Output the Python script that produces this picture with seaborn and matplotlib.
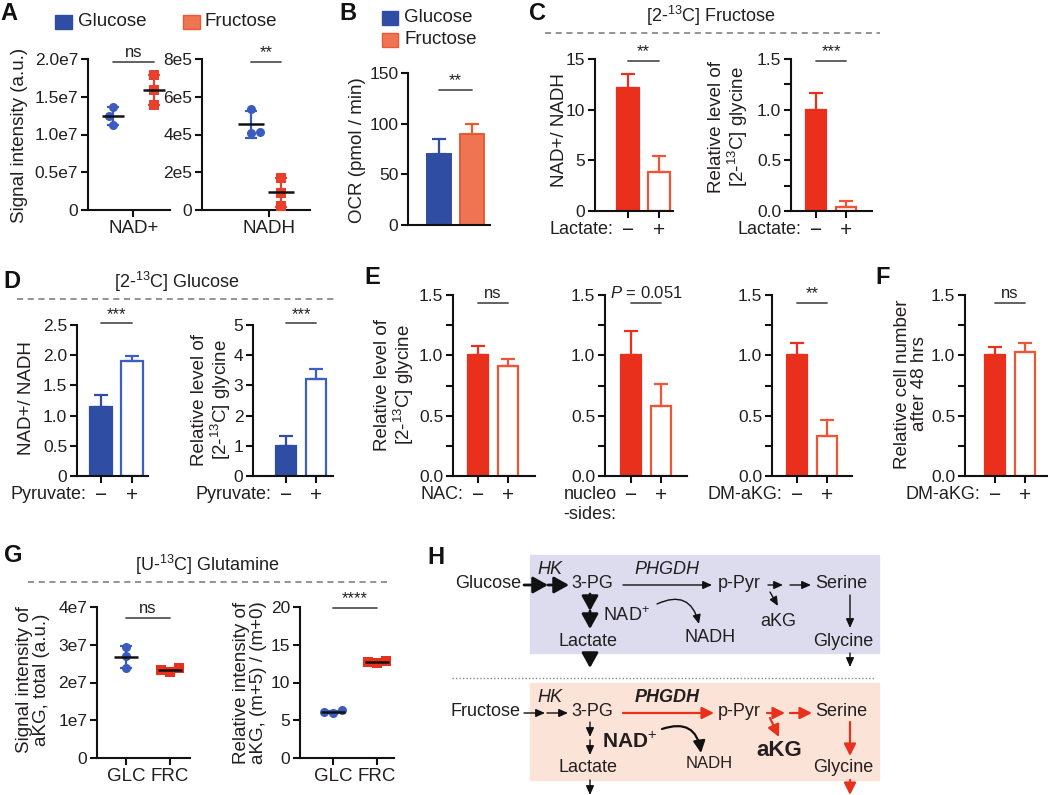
import numpy as np
import pandas as pd
import matplotlib
matplotlib.use("Agg")
import matplotlib.pyplot as plt
import matplotlib.transforms as mtransforms
from matplotlib.patches import Rectangle
import seaborn as sns

W, H = 1050, 795

# ---------------- data ----------------
groups = ["Glucose", "Fructose"]
# A: signal intensity, 3 replicates each
a_nad_glc = [1.36e7, 1.24e7, 1.13e7]
a_nad_frc = [1.79e7, 1.59e7, 1.39e7]
a_nadh_glc = [5.35e5, 4.10e5, 4.15e5]
a_nadh_frc = [1.70e5, 0.90e5, 0.20e5]
# B: OCR (mean, mean+error)
b_mean = [70, 90]
b_top = [85, 100]
# C: [2-13C] fructose, lactate -/+
c_ratio_mean = [12.1, 3.8]
c_ratio_top = [13.5, 5.4]
c_gly_mean = [1.0, 0.04]
c_gly_top = [1.16, 0.10]
# D: [2-13C] glucose, pyruvate -/+
d_ratio_mean = [1.15, 1.91]
d_ratio_top = [1.34, 1.98]
d_gly_mean = [1.0, 3.22]
d_gly_top = [1.33, 3.53]
# E: relative [2-13C] glycine
e_nac_mean = [1.0, 0.91]
e_nac_top = [1.08, 0.97]
e_nuc_mean = [1.0, 0.58]
e_nuc_top = [1.20, 0.76]
e_akg_mean = [1.0, 0.33]
e_akg_top = [1.10, 0.46]
# F: relative cell number
f_mean = [1.0, 1.03]
f_top = [1.07, 1.10]
# G: [U-13C] glutamine
g_labels = ["GLC", "FRC"]
g_tot_glc = [2.95e7, 2.70e7, 2.38e7]
g_tot_frc = [2.38e7, 2.33e7, 2.28e7]
g_rel_glc = [6.0, 6.3, 6.1]
g_rel_frc = [12.6, 12.9, 12.7]
pm_labels = ["\u2212", "+"]

# ---------------- style ----------------
sns.set_style("ticks")
plt.rcParams['font.family'] = ['Liberation Sans', 'DejaVu Sans']
plt.rcParams['mathtext.fontset'] = 'custom'
plt.rcParams['mathtext.rm'] = 'Liberation Sans'
plt.rcParams['mathtext.it'] = 'Liberation Sans:italic'
plt.rcParams['mathtext.bf'] = 'Liberation Sans:bold'
TXT = '#231f20'
plt.rcParams['text.color'] = TXT
BLUE = '#2f4ea3'
BLUE_PT = '#3a5cbf'
SALMON = '#ef7552'
RED = '#e8301c'
RED_OPEN = '#ee5436'
RED_PT = '#e8412b'
GRAY = '#555555'

fig = plt.figure(figsize=(W / 100, H / 100), dpi=100)
ov = fig.add_axes([0, 0, 1, 1], zorder=-5)
ov.set_xlim(0, W)
ov.set_ylim(H, 0)
ov.axis('off')


def make_axes(x0, x1, ytop, ybot):
    return fig.add_axes([x0 / W, 1 - ybot / H, (x1 - x0) / W, (ybot - ytop) / H])


def style_axes(ax, ymax, major, labels, minor=None):
    ax.set_ylim(0, ymax)
    ax.set_yticks(major)
    ax.set_yticklabels(labels)
    if minor is not None:
        ax.set_yticks(minor, minor=True)
    sns.despine(ax=ax)
    for s in ('left', 'bottom'):
        ax.spines[s].set_linewidth(1.5)
        ax.spines[s].set_color('#111111')
    ax.tick_params(axis='both', which='both', width=1.5, length=5, colors='#111111',
                   labelcolor=TXT, labelsize=12.5, pad=2)
    ax.set_xlabel('')
    ax.set_ylabel('')
    ax.set_facecolor('none')


def set_xlim_px(ax, x0, x1, c0, c1):
    u = c1 - c0
    ax.set_xlim((x0 - c0) / u, (x1 - c0) / u)


def sig(ax, frac, ymax, text, x0=0.0, x1=1.0, fs=12):
    y = frac * ymax
    ax.plot([x0, x1], [y, y], color=GRAY, lw=1.3, clip_on=False)
    ax.text((x0 + x1) / 2, y + 0.012 * ymax, text, ha='center', va='bottom',
            fontsize=fs, color=TXT, clip_on=False)


def bar_panel(px, ymax, major, labels, minor, means, tops, faces, edges,
              prefix, sigtxt, sigfrac):
    x0, x1, yt, yb, c0, c1 = px
    ax = make_axes(x0, x1, yt, yb)
    df = pd.DataFrame({'cond': pm_labels, 'val': means})
    sns.barplot(data=df, x='cond', y='val', hue='cond', order=pm_labels,
                palette=dict(zip(pm_labels, faces)), width=0.68, errorbar=None,
                legend=False, saturation=1, ax=ax)
    for p, e in zip(ax.patches, edges):
        p.set_edgecolor(e)
        p.set_linewidth(1.6)
    for i in range(2):
        ax.errorbar(i, means[i], yerr=[[0], [tops[i] - means[i]]], fmt='none',
                    ecolor=edges[i], elinewidth=1.6, capsize=5, capthick=1.6)
    style_axes(ax, ymax, major, labels, minor)
    set_xlim_px(ax, x0, x1, c0, c1)
    ax.set_xticks([0, 1])
    ax.set_xticklabels(pm_labels, fontsize=15)
    tr = mtransforms.blended_transform_factory(ax.transData, ax.transAxes)
    ax.annotate(prefix, xy=(-0.48, 0), xycoords=tr, xytext=(0, -7.5),
                textcoords='offset points', ha='right', va='top', fontsize=13,
                multialignment='center')
    sig(ax, sigfrac, ymax, sigtxt)
    return ax


def point_panel(px, ymax, major, labels, glc, frc, xticks, xlabels, sigtxt, sigfrac,
                hw, frc_col):
    x0, x1, yt, yb, c0, c1 = px
    ax = make_axes(x0, x1, yt, yb)
    for vals, name, col, mk in ((glc, groups[0], BLUE_PT, 'o'), (frc, groups[1], frc_col, 's')):
        sns.swarmplot(x=[name] * len(vals), y=vals, order=groups, color=col, marker=mk,
                      size=6.5, ax=ax, zorder=3, linewidth=0)
    for i, (vals, col) in enumerate(((glc, BLUE_PT), (frc, frc_col))):
        m = np.mean(vals)
        sd = np.std(vals, ddof=1)
        ax.errorbar(i, m, yerr=sd, fmt='none', ecolor=col, elinewidth=1.6, capsize=4.5,
                    capthick=1.6, zorder=2)
        ax.hlines(m, i - hw, i + hw, color='#111111', lw=1.8, zorder=4)
    style_axes(ax, ymax, major, labels)
    set_xlim_px(ax, x0, x1, c0, c1)
    ax.set_xticks(xticks)
    ax.set_xticklabels(xlabels, fontsize=13.5)
    sig(ax, sigfrac, ymax, sigtxt)
    return ax


# ---------------- panel A ----------------
point_panel((88, 170, 59, 210, 113, 154), 2.0e7, [0, 0.5e7, 1.0e7, 1.5e7, 2.0e7],
            ['0', '0.5e7', '1.0e7', '1.5e7', '2.0e7'], a_nad_glc, a_nad_frc, [0.5], ['NAD+'],
            'ns', 0.98, 0.27, RED_PT)
point_panel((202, 310, 59, 210, 251, 281), 8e5, [0, 2e5, 4e5, 6e5, 8e5],
            ['0', '2e5', '4e5', '6e5', '8e5'], a_nadh_glc, a_nadh_frc, [0.6], ['NADH'],
            '**', 0.98, 0.42, RED_PT)

# ---------------- panel B ----------------
axb = make_axes(408, 490, 73, 225)
dfb = pd.DataFrame({'sugar': groups, 'ocr': b_mean})
sns.barplot(data=dfb, x='sugar', y='ocr', hue='sugar', order=groups,
            palette={groups[0]: BLUE, groups[1]: SALMON}, width=0.72, errorbar=None,
            legend=False, saturation=1, ax=axb)
for p, e in zip(axb.patches, [BLUE, '#e85a35']):
    p.set_edgecolor(e)
    p.set_linewidth(1.4)
for i, col in enumerate([BLUE, '#e85a35']):
    axb.errorbar(i, b_mean[i], yerr=[[0], [b_top[i] - b_mean[i]]], fmt='none', ecolor=col,
                 elinewidth=1.6, capsize=5, capthick=1.6)
style_axes(axb, 150, [0, 50, 100, 150], ['0', '50', '100', '150'])
set_xlim_px(axb, 408, 490, 439, 472)
axb.set_xticks([])
sig(axb, 0.89, 150, '**')

# ---------------- panel C ----------------
bar_panel((595, 673, 59, 211, 628, 659), 15, [0, 5, 10, 15], ['0', '5', '10', '15'], None,
          c_ratio_mean, c_ratio_top, [RED, 'white'], [RED, RED_OPEN], 'Lactate:', '**', 0.987)
bar_panel((791, 872, 59, 211, 816, 846), 1.5, [0, 0.5, 1.0, 1.5], ['0.0', '0.5', '1.0', '1.5'],
          [0.25, 0.75, 1.25], c_gly_mean, c_gly_top, [RED, 'white'], [RED, RED_OPEN],
          'Lactate:', '***', 0.987)

# ---------------- panel D ----------------
bar_panel((77, 148, 325, 476, 101, 132), 2.5, [0, 0.5, 1.0, 1.5, 2.0, 2.5],
          ['0', '0.5', '1.0', '1.5', '2.0', '2.5'], None, d_ratio_mean, d_ratio_top,
          [BLUE, 'white'], [BLUE, '#3c5fc2'], 'Pyruvate:', '***', 1.01)
bar_panel((253, 333, 325, 476, 286, 316), 5, [0, 1, 2, 3, 4, 5],
          ['0', '1', '2', '3', '4', '5'], None, d_gly_mean, d_gly_top,
          [BLUE, 'white'], [BLUE, '#3c5fc2'], 'Pyruvate:', '***', 1.01)

# ---------------- panel E / F ----------------
rel_major = [0, 0.5, 1.0, 1.5]
rel_lab = ['0.0', '0.5', '1.0', '1.5']
rel_minor = [0.25, 0.75, 1.25]
bar_panel((453, 535, 295, 476, 478, 508), 1.5, rel_major, rel_lab, rel_minor,
          e_nac_mean, e_nac_top, [RED, 'white'], [RED, RED_OPEN], 'NAC:', 'ns', 0.955)
bar_panel((605, 687, 295, 476, 631, 661), 1.5, rel_major, rel_lab, rel_minor,
          e_nuc_mean, e_nuc_top, [RED, 'white'], [RED, RED_OPEN], 'nucleo\n-sides:',
          '$P$ = 0.051', 0.955)
bar_panel((772, 852, 295, 476, 797, 827), 1.5, rel_major, rel_lab, rel_minor,
          e_akg_mean, e_akg_top, [RED, 'white'], [RED, RED_OPEN], 'DM-aKG:', '**', 0.955)
bar_panel((965, 1047, 295, 476, 995, 1025), 1.5, rel_major, rel_lab, rel_minor,
          f_mean, f_top, [RED, 'white'], [RED, RED_OPEN], 'DM-aKG:', 'ns', 0.955)

# ---------------- panel G ----------------
point_panel((97, 190, 607, 758, 126, 170), 4e7, [0, 1e7, 2e7, 3e7, 4e7],
            ['0', '1e7', '2e7', '3e7', '4e7'], g_tot_glc, g_tot_frc, [0, 1], g_labels,
            'ns', 0.93, 0.27, RED)
point_panel((300, 394, 607, 758, 333, 377), 20, [0, 5, 10, 15, 20],
            ['0', '5', '10', '15', '20'], g_rel_glc, g_rel_frc, [0, 1], g_labels,
            '****', 0.995, 0.27, RED)

# ---------------- y labels ----------------
YL = 13.5
ylabels = [
    (20, 135, 'Signal intensity (a.u.)'),
    (357, 150, 'OCR (pmol / min)'),
    (559, 130, 'NAD+/ NADH'),
    (729, 127, 'Relative level of\n[2-$^{13}$C] glycine'),
    (27, 398, 'NAD+/ NADH'),
    (212, 400, 'Relative level of\n[2-$^{13}$C] glycine'),
    (395, 385, 'Relative level of\n[2-$^{13}$C] glycine'),
    (911, 384, 'Relative cell number\nafter 48 hrs'),
    (33, 680, 'Signal intensity of\naKG, total (a.u.)'),
    (250, 683, 'Relative intensity of\naKG, (m+5) / (m+0)'),
]
for x, y, t in ylabels:
    ov.text(x, y, t, rotation=90, ha='center', va='center', fontsize=YL,
            multialignment='center', linespacing=1.05)

# ---------------- legends ----------------
ov.add_patch(Rectangle((55, 15), 17, 14, color=BLUE))
ov.text(78, 22, 'Glucose', va='center', fontsize=13.5)
ov.add_patch(Rectangle((183, 15), 17, 14, facecolor=SALMON, edgecolor='#e85a35', lw=1))
ov.text(205, 22, 'Fructose', va='center', fontsize=13.5)
ov.add_patch(Rectangle((382, 11), 16, 14, color=BLUE))
ov.text(404, 18, 'Glucose', va='center', fontsize=13.5)
ov.add_patch(Rectangle((382, 33), 16, 14, facecolor=SALMON, edgecolor='#e85a35', lw=1))
ov.text(404, 40, 'Fructose', va='center', fontsize=13.5)

# ---------------- headers ----------------
for x, y, t, l0, l1, ly in [(711, 16, '[2-$^{13}$C] Fructose', 545, 880, 33),
                            (177, 282, '[2-$^{13}$C] Glucose', 17, 337, 299),
                            (207, 565, '[U-$^{13}$C] Glutamine', 28, 387, 582)]:
    ov.text(x, y, t, ha='center', va='center', fontsize=13)
    ov.plot([l0, l1], [ly, ly], color='#777777', lw=1.1, ls=(0, (4, 3)))

# ---------------- panel letters ----------------
for x, y, t in [(9, 14, 'A'), (348, 13, 'B'), (537, 13, 'C'), (12, 282, 'D'),
                (372, 277, 'E'), (883, 277, 'F'), (13, 556, 'G'), (436, 558, 'H')]:
    ov.text(x, y, t, ha='center', va='center', fontsize=17, fontweight='bold', color='#111111')

# ---------------- panel H (schematic) ----------------
ov.add_patch(Rectangle((530, 555), 349, 98, color='#dcdcee', zorder=0))
ov.add_patch(Rectangle((530, 683), 349, 97, color='#fce3d7', zorder=0))
ov.plot([452, 875], [678, 678], color='#888888', lw=1, ls=(0, (1, 1.5)))


def arr(p0, p1, kind='thin', color='#111111', rad=None):
    lw, ms, hl, hw = {'bold': (2.0, 10, 0.9, 0.5),
                      'thin': (1.0, 6, 0.9, 0.4),
                      'mid': (1.6, 8, 0.9, 0.45)}[kind]
    props = dict(arrowstyle=f'-|>,head_length={hl},head_width={hw}', color=color, lw=lw,
                 mutation_scale=ms, shrinkA=0, shrinkB=0)
    if rad is not None:
        props['connectionstyle'] = f'arc3,rad={rad}'
    ov.annotate('', xy=p1, xytext=p0, arrowprops=props)


def txt(x, y, t, ha='left', fs=13, **kw):
    ov.text(x, y, t, ha=ha, va='center', fontsize=fs, **kw)


# glucose row
txt(521, 584, 'Glucose', ha='right')
txt(550, 569, 'HK', ha='center', style='italic')
arr((524, 585), (548, 585), 'bold')
arr((548, 585), (569, 585), 'bold')
txt(571, 584, '3-PG')
txt(667, 570, 'PHGDH', ha='center', style='italic')
arr((623, 585), (712, 585))
txt(718, 584, 'p-Pyr')
arr((768, 585), (783, 585))
arr((790, 585), (811, 585))
txt(815, 584, 'Serine')
arr((770, 592), (778, 606))
txt(778, 621, 'aKG', ha='center')
txt(603, 616, 'NAD$^{+}$', ha='left')
arr((657, 604), (699, 624), rad=-0.6)
txt(710, 638, 'NADH', ha='center')
arr((590, 594), (590, 611), 'bold')
arr((590, 611), (590, 629), 'bold')
txt(588, 641, 'Lactate', ha='center')
arr((590, 653), (590, 668), 'bold')
arr((850, 595), (850, 628))
txt(843, 641, 'Glycine', ha='center')
arr((850, 653), (850, 667))

# fructose row
txt(521, 712, 'Fructose', ha='right')
txt(550, 697, 'HK', ha='center', style='italic')
arr((524, 713), (545, 713))
arr((547, 713), (568, 713))
txt(571, 712, '3-PG')
txt(667, 697, 'PHGDH', ha='center', style='italic', fontweight='bold')
arr((623, 713), (714, 713), 'mid', color=RED)
txt(718, 712, 'p-Pyr')
arr((767, 713), (785, 713), 'mid', color=RED)
arr((790, 713), (812, 713), 'mid', color=RED)
txt(815, 712, 'Serine')
arr((770, 718), (779, 737), 'mid', color=RED)
txt(779, 751, 'aKG', ha='center', fs=16, fontweight='bold')
txt(602, 742, 'NAD$^{+}$', ha='left', fs=15, fontweight='bold')
arr((662, 729), (701, 753), 'mid', rad=-0.6)
txt(709, 764, 'NADH', ha='center', fs=12)
arr((590, 722), (590, 737))
arr((590, 740), (590, 755))
txt(588, 767, 'Lactate', ha='center')
arr((590, 780), (590, 795))
arr((850, 722), (850, 756), 'mid', color=RED)
txt(843, 767, 'Glycine', ha='center')
arr((850, 780), (850, 795), 'mid', color=RED)

fig.savefig('out.png', dpi=100)
